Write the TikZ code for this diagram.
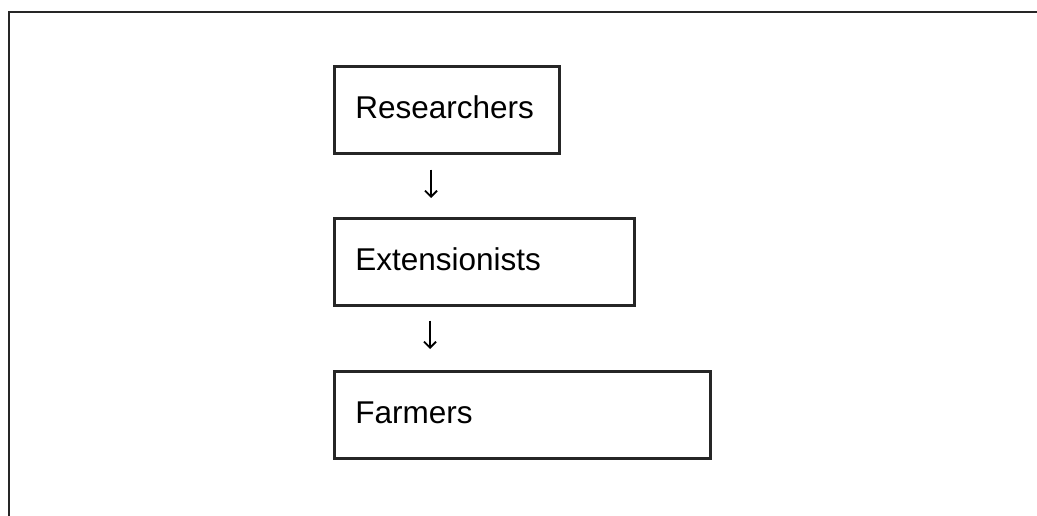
\documentclass[tikz,border=0pt]{standalone}
\usepackage{fontspec}
\setmainfont{Liberation Sans}
\usetikzlibrary{arrows.meta,calc}
\begin{document}
\begin{tikzpicture}[x=1pt,y=-1pt,
  stage/.style={draw=black!85,line width=2.6pt,anchor=north west,
    minimum height=87pt,inner xsep=21pt,inner ysep=0pt,
    text height=22.5pt,text depth=6pt,align=left,font=\fontsize{31.5}{36}\selectfont},
  flow/.style={line width=1.8pt,-{Straight Barb[length=6pt,width=12pt,line width=1.8pt]}},
  frame/.style={draw=black!85,line width=2.6pt}]
\useasboundingbox (0,0) rectangle (1037,516);
% open outer frame: top and left edges only
\draw[frame] (1037,12) -- (9,12) -- (9,516);
% the three stages
\node[stage,minimum width=225pt,text width=183pt] (r) at (333,65) {Researchers};
\node[stage,minimum width=300pt,text width=258pt] (e) at (333,217) {Extensionists};
\node[stage,minimum width=376pt,text width=334pt] (f) at (333,370) {Farmers};
% downward flow between stages
\draw[flow] ($(r.south west)+(98,15)$) -- ($(e.north west)+(98,-19)$);
\draw[flow] ($(e.south west)+(97,14)$) -- ($(f.north west)+(97,-21)$);
\end{tikzpicture}
\end{document}
